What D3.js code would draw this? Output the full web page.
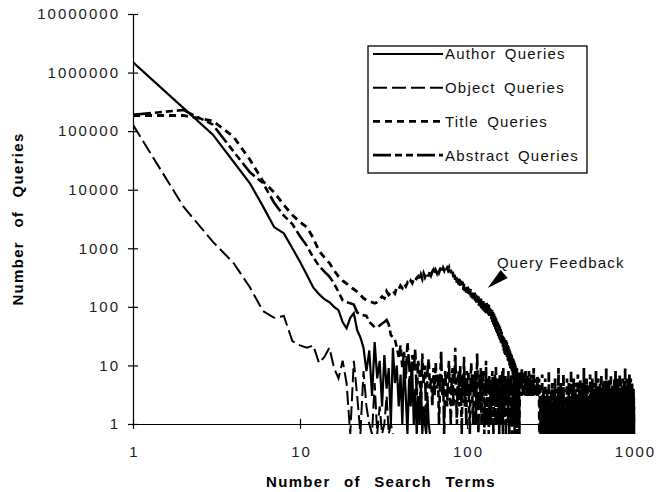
<!DOCTYPE html>
<html>
<head>
<meta charset="utf-8">
<script src="https://cdn.jsdelivr.net/npm/d3@7"></script>
<style>
  body { margin: 0; background: #fff; }
  svg { font-family: "Liberation Sans", Arial, sans-serif; }
</style>
</head>
<body>
<div class="plot"></div>
<script>
// Tick values
var xTicks = [1, 10, 100, 1000];
var yTicks = [1, 10, 100, 1000, 10000, 100000, 1000000, 10000000];

// Series names (legend order)
var seriesNames = ["Author Queries", "Object Queries", "Title Queries", "Abstract Queries"];

// Values; x = index + 1 (number of search terms)
var authorHead = [1500000, 250000, 88000, 30000, 13000, 5200, 2300, 1800, 1000, 590,
  350, 215, 165, 135, 120, 100, 88, 55, 43, 65, 78, 40, 30, 20];
var authorNoise = [8, 18, 3, 25, 6, 12, 2, 15, 4, 9, 1, 20, 5, 10, 2, 7, 1, 12, 3, 0,
  6, 2, 9, 1, 4, 0, 3, 1, 5, 0, 2, 1, 0, 3, 1, 0];

var objectValues = [128000, 5200, 1300, 560, 218, 85, 65, 70, 26, 22, 20, 22, 11, 14, 20,
  9, 6, 12, 5, 0, 12, 3, 0, 8, 2, 1, 0, 5, 0, 2, 0, 1, 3, 0, 1, 0];

var abstractHead = [190000, 230000, 130000, 45000, 20000, 13000, 6000, 3600, 2600, 1600,
  1100, 700, 500, 400, 330, 250, 180, 130, 120, 115, 110, 80, 75, 72, 70, 55, 50, 45,
  45, 48, 52, 55, 60, 50, 33, 30, 28, 20];
// x = 39 .. 207
var abstractNoise = [14, 22, 9, 17, 6, 25, 11, 4, 15, 8, 19, 3, 12, 7, 2, 16, 5, 10, 1, 8, 13, 4,
  6, 2, 9, 3, 11, 4, 7, 1, 5, 18, 3, 6, 0, 8, 4, 2, 7, 12, 3, 1, 6, 9, 2, 5, 20, 4, 1, 6,
  8, 2, 10, 4, 0, 7, 3, 14, 2, 5, 1, 8,
  3, 8, 2, 0, 5, 11, 6, 2, 1, 7, 3, 8, 1, 4, 16, 5, 0, 3, 7, 2, 9, 1, 6, 3, 8, 2, 0, 5,
  3, 12, 1, 4, 6, 2, 0, 7, 3, 5, 1, 4, 6, 8, 2, 0, 5, 3, 7, 1, 10, 4,
  2, 6, 1, 5, 3, 0, 7, 2, 4, 6, 1, 3, 8, 0, 9, 2, 5, 1, 4, 7, 0, 3, 6, 2, 5, 1, 8, 3,
  0, 4, 6, 2, 1, 7, 3, 0, 5, 2, 4, 1, 8, 3, 0, 6, 2, 4, 1, 5, 3, 0, 7, 2, 4, 1, 6, 0, 3];

var titleHead = [185000, 185000, 150000, 80000, 33000, 14000, 9000, 5500, 3700, 2800,
  2300, 1500, 900, 700, 560, 420, 330, 280, 250, 220, 200, 180, 160, 140, 130, 125, 120,
  115, 120, 135, 150, 140, 185, 160, 175, 190, 170, 215, 200, 230, 210, 250, 225, 260,
  240, 280, 255, 300, 275, 310];
// the "query feedback" hump, x = 51 .. 270
var titleHump = [330, 280, 350, 300, 370, 320, 360, 390, 330, 410, 350, 400, 430, 360,
  420, 380, 450, 390, 440, 470, 400, 460, 420, 480, 430, 460,
  420, 460, 380, 430, 350, 400, 320, 380, 290, 350, 260, 320, 240, 300, 220, 280, 210,
  270, 195, 250, 185, 240, 175, 225,
  215, 160, 205, 150, 200, 145, 190, 140, 180, 130, 175, 125, 165, 118, 160, 110, 150,
  105, 145, 100, 138, 95, 130, 90, 125, 86, 120, 82, 115, 78,
  118, 80, 112, 74, 108, 70, 100, 64, 95, 60, 88, 55, 82, 50, 76, 46, 70, 42, 64, 38,
  58, 35, 54, 32, 50, 29, 46, 27, 42, 24, 38, 22, 35, 20, 32, 18, 29, 16, 26, 15,
  28, 15, 25, 13, 23, 12, 21, 11, 19, 10, 18, 9, 16, 8, 15, 8, 14, 7, 13, 6, 12, 6, 11,
  5, 10, 5, 9, 4, 9, 4, 8, 4, 8, 3, 7, 3, 7,
  5, 8, 4, 7, 3, 9, 5, 6, 3, 8, 4, 6, 3, 7, 5, 4, 8, 3, 6, 4, 5, 3, 7, 4, 6, 3, 5, 8, 3,
  4, 6, 3, 5, 4, 7, 3, 4, 5, 3, 6, 4, 3, 5, 9, 3, 4, 6, 3, 5, 4, 3, 6, 4, 3, 5, 3, 7, 4,
  3, 5, 4, 3, 6];
// long noisy tail, x = 271 .. 1000
var titleTail = [
  1,0,3,2,5,0,1,2,0,3,1,7,0,2,1,0,4,1,2,0,3,0,1,6,2,0,1,3,0,2,
  0,4,1,0,2,1,3,0,8,1,0,2,1,0,3,2,0,1,4,0,2,1,0,5,1,3,0,1,2,0,
  3,1,0,2,0,1,6,0,2,1,3,0,1,2,4,0,1,0,3,1,0,2,9,1,0,2,1,3,0,1,
  2,0,1,5,0,2,1,0,3,1,2,0,4,1,0,2,1,7,0,1,3,0,2,1,0,4,0,1,2,0,
  1,3,0,2,1,0,6,1,0,2,3,1,0,1,2,0,5,1,0,3,1,2,0,1,4,0,2,1,0,8,
  0,2,1,3,0,1,2,0,4,1,0,3,2,0,1,6,0,2,1,0,3,1,0,2,5,1,0,1,3,0,
  2,1,0,4,0,1,3,2,0,1,7,0,2,1,3,0,1,0,2,4,1,0,3,1,0,2,6,0,1,2,
  0,3,1,0,2,1,5,0,1,3,0,2,1,0,4,2,0,1,3,0,9,1,0,2,1,3,0,1,2,0,
  4,0,1,2,0,3,1,0,2,6,1,0,3,1,2,0,1,4,0,2,1,0,3,5,0,1,2,0,3,1,
  0,2,1,3,0,7,1,0,2,1,0,3,1,2,0,4,1,0,2,3,0,1,6,0,2,1,3,0,1,0,
  2,1,0,3,4,0,1,2,0,1,3,0,5,1,2,0,1,3,0,2,1,8,0,1,2,0,3,1,0,2,
  1,0,4,1,0,2,3,0,1,2,6,0,1,3,0,2,1,0,4,1,0,2,1,3,0,5,1,0,2,1,
  0,3,1,0,2,1,0,7,1,2,0,3,1,0,2,4,0,1,3,0,2,1,0,5,2,0,1,3,0,1,
  2,0,1,3,0,6,1,2,0,1,3,0,2,4,1,0,1,2,0,3,1,9,0,2,1,0,3,1,0,2,
  1,3,0,2,1,0,4,1,0,2,5,0,1,3,0,2,1,0,3,6,0,1,2,0,1,3,0,4,1,0,
  2,0,1,3,0,2,7,0,1,2,0,3,1,0,4,1,2,0,1,3,0,5,1,0,2,1,3,0,1,2,
  0,1,3,0,2,4,0,1,2,0,3,1,6,0,2,1,0,3,1,0,2,4,1,0,8,1,0,2,1,3,
  0,2,1,0,5,1,0,3,2,0,1,2,0,4,1,3,0,1,2,0,6,1,0,2,3,0,1,2,0,1,
  3,0,2,1,0,4,1,0,2,1,7,0,1,3,0,2,1,0,3,1,2,0,5,1,0,2,1,3,0,2,
  1,0,3,2,0,1,4,0,2,1,0,3,1,6,0,2,1,0,3,1,0,2,4,1,0,1,3,0,2,1,
  0,5,1,0,2,1,3,0,1,2,0,4,1,0,9,1,2,0,1,3,0,2,1,0,4,1,0,2,3,0,
  1,2,0,3,1,0,2,6,0,1,3,0,2,1,0,4,1,2,0,3,1,0,5,1,0,2,1,3,0,1,
  2,0,1,3,0,2,1,0,7,1,0,2,3,1,0,1,4,0,2,1,0,3,1,2,0,6,1,0,2,1,
  0,3,1,0,2,4,0,1,2,0,3,1,0,5,1,2,0,1,3,0,2,1,0,4,1,0,3,2,0,1,
  2,0,4,1,0,3,1,0,2,1];

// Annotation: where the arrow points (x, count)
var feedbackPoint = [133, 210];

// Build series
function toPoints(values) {
  return values.map(function (v, i) { return {x: i + 1, v: v}; });
}
var series = [
  {name: seriesNames[3], points: toPoints(abstractHead.concat(abstractNoise)), dash: "18,4,7,4,7,4", width: 2.6},
  {name: seriesNames[2], points: toPoints(titleHead.concat(titleHump, titleTail)), dash: "7,5", width: 2.8},
  {name: seriesNames[1], points: toPoints(objectValues), dash: "14,5", width: 2},
  {name: seriesNames[0], points: toPoints(authorHead.concat(authorNoise)), dash: null, width: 2.2}
];

var outerWidth = 659, outerHeight = 492;
var plot = {left: 133, right: 634, top: 14, bottom: 424};

var canvas = d3.select(".plot").append("svg")
    .attr("width", outerWidth)
    .attr("height", outerHeight);

canvas.append("rect")
    .attr("width", "100%")
    .attr("height", "100%")
    .attr("fill", "white");

var xScale = d3.scaleLog().domain([1, 1000]).range([plot.left, plot.right]);
var yScale = d3.scaleLog().domain([1, 10000000]).range([plot.bottom, plot.top]);

// zero counts drop just below the axis, as in the original
function yPos(d) {
  return d.v > 0 ? yScale(d.v) : yScale(1) + 10;
}

canvas.append("clipPath")
    .attr("id", "clip")
  .append("rect")
    .attr("x", plot.left)
    .attr("y", 0)
    .attr("width", plot.right - plot.left + 6)
    .attr("height", plot.bottom + 10);

var line = d3.line()
    .x(function (d) { return xScale(d.x); })
    .y(yPos);

// Draw series
canvas.append("g")
    .attr("clip-path", "url(#clip)")
  .selectAll(".series")
    .data(series)
    .enter().append("path")
    .attr("class", "series")
    .attr("d", function (d) { return line(d.points); })
    .attr("fill", "none")
    .attr("stroke", "black")
    .attr("stroke-width", function (d) { return d.width; })
    .attr("stroke-dasharray", function (d) { return d.dash; })
    .attr("stroke-linejoin", "miter");

// Axes
var yAxis = d3.axisLeft(yScale)
    .tickValues(yTicks)
    .tickFormat(d3.format("d"))
    .tickSizeInner(5)
    .tickSizeOuter(0)
    .tickPadding(8);
var gy = canvas.append("g")
    .attr("transform", "translate(" + plot.left + ",0)")
    .call(yAxis);
gy.selectAll(".tick line").attr("x1", 5).attr("stroke-width", 1.2);
gy.select(".domain").attr("stroke-width", 1.2);

var xAxis = d3.axisBottom(xScale)
    .tickValues(xTicks)
    .tickFormat(d3.format("d"))
    .tickSizeInner(5)
    .tickSizeOuter(0)
    .tickPadding(17);
var gx = canvas.append("g")
    .attr("transform", "translate(0," + plot.bottom + ")")
    .call(xAxis);
gx.selectAll(".tick line").attr("y1", -5).attr("stroke-width", 1.2);
gx.select(".domain").attr("stroke-width", 1.2);

canvas.selectAll(".tick text")
    .attr("font-family", "'Liberation Sans', Arial, sans-serif")
    .attr("font-size", 15)
    .attr("fill", "#222")
    .style("letter-spacing", "2px");
gx.selectAll(".tick text").attr("dx", "1px");

// Axis titles
canvas.append("text")
    .attr("text-anchor", "middle")
    .attr("x", 381)
    .attr("y", 487)
    .attr("font-size", 15)
    .attr("font-weight", "bold")
    .style("letter-spacing", "1.3px")
    .style("word-spacing", "8px")
    .text("Number of Search Terms");

canvas.append("text")
    .attr("text-anchor", "middle")
    .attr("transform", "translate(23,219) rotate(-90)")
    .attr("font-size", 15)
    .attr("font-weight", "bold")
    .style("letter-spacing", "1.3px")
    .style("word-spacing", "8px")
    .text("Number of Queries");

// Legend
var legend = canvas.append("g");
legend.append("rect")
    .attr("x", 368)
    .attr("y", 46)
    .attr("width", 219)
    .attr("height", 127)
    .attr("fill", "white")
    .attr("stroke", "black")
    .attr("stroke-width", 1.3);

var legendOrder = series.slice().reverse();
var rows = legend.selectAll(".row")
    .data(legendOrder)
    .enter().append("g")
    .attr("class", "row")
    .attr("transform", function (d, i) { return "translate(0," + (54 + i * 33.7) + ")"; });
rows.append("line")
    .attr("x1", 373)
    .attr("x2", 443)
    .attr("stroke", "black")
    .attr("stroke-width", function (d) { return d.width; })
    .attr("stroke-dasharray", function (d) { return d.dash; });
rows.append("text")
    .attr("x", 445)
    .attr("dy", "0.36em")
    .attr("font-size", 15)
    .attr("fill", "#111")
    .style("letter-spacing", "1.2px")
    .style("word-spacing", "3px")
    .text(function (d) { return d.name; });

// Query feedback annotation
var tipX = xScale(feedbackPoint[0]), tipY = yScale(feedbackPoint[1]);
canvas.append("path")
    .attr("d", "M" + tipX + "," + tipY + "L" + (tipX + 13) + "," + (tipY - 18) + "L" + (tipX + 20) + "," + (tipY - 10) + "Z")
    .attr("fill", "black");
canvas.append("text")
    .attr("x", 497)
    .attr("y", 268)
    .attr("font-size", 15)
    .attr("fill", "#111")
    .style("letter-spacing", "1.2px")
    .text("Query Feedback");
</script>
</body>
</html>
